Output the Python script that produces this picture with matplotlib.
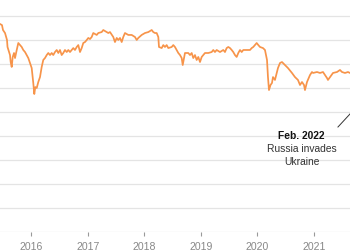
import matplotlib
matplotlib.use("Agg")
import matplotlib.pyplot as plt

plt.rcParams['font.family'] = ['Liberation Sans', 'DejaVu Sans']

# Decimal year of each sampled point
dates = [2015.446, 2015.481, 2015.499, 2015.535, 2015.570, 2015.579, 2015.596, 2015.623,
         2015.635, 2015.653, 2015.671, 2015.694, 2015.712, 2015.742, 2015.770, 2015.800,
         2015.830, 2015.858, 2015.889, 2015.919, 2015.947, 2015.977, 2016.007, 2016.025,
         2016.035, 2016.053, 2016.071, 2016.096, 2016.124, 2016.154, 2016.184, 2016.212,
         2016.242, 2016.273, 2016.301, 2016.331, 2016.361, 2016.389, 2016.419, 2016.450,
         2016.478, 2016.508, 2016.538, 2016.566, 2016.596, 2016.627, 2016.655, 2016.685,
         2016.715, 2016.743, 2016.773, 2016.804, 2016.832, 2016.862, 2016.892, 2016.920,
         2016.950, 2016.981, 2017.009, 2017.039, 2017.069, 2017.097, 2017.158, 2017.186,
         2017.246, 2017.274, 2017.335, 2017.363, 2017.393, 2017.451, 2017.481, 2017.512,
         2017.540, 2017.570, 2017.600, 2017.628, 2017.658, 2017.717, 2017.777, 2017.835,
         2017.866, 2017.894, 2017.954, 2018.012, 2018.071, 2018.131, 2018.159, 2018.189,
         2018.219, 2018.248, 2018.260, 2018.308, 2018.336, 2018.366, 2018.396, 2018.425,
         2018.485, 2018.513, 2018.543, 2018.573, 2018.602, 2018.632, 2018.662, 2018.680,
         2018.703, 2018.720, 2018.779, 2018.809, 2018.839, 2018.867, 2018.897, 2018.927,
         2018.956, 2018.986, 2019.016, 2019.044, 2019.074, 2019.133, 2019.193, 2019.221,
         2019.251, 2019.281, 2019.340, 2019.398, 2019.428, 2019.458, 2019.487, 2019.517,
         2019.547, 2019.575, 2019.605, 2019.635, 2019.664, 2019.694, 2019.724, 2019.752,
         2019.812, 2019.871, 2019.901, 2019.929, 2019.959, 2019.989, 2020.018, 2020.048,
         2020.101, 2020.136, 2020.172, 2020.189, 2020.207, 2020.234, 2020.260, 2020.278,
         2020.313, 2020.349, 2020.366, 2020.402, 2020.437, 2020.490, 2020.543, 2020.614,
         2020.667, 2020.720, 2020.756, 2020.791, 2020.827, 2020.844, 2020.880, 2020.933,
         2020.968, 2020.986, 2021.057, 2021.110, 2021.163, 2021.198, 2021.234, 2021.251,
         2021.287, 2021.340, 2021.411, 2021.464, 2021.499, 2021.552, 2021.605, 2021.641]

# Value of the ruble (U.S. cents)
values = [1.731, 1.722, 1.681, 1.656, 1.598, 1.540, 1.515, 1.473,
          1.415, 1.374, 1.457, 1.490, 1.448, 1.515, 1.573, 1.556,
          1.540, 1.515, 1.498, 1.473, 1.448, 1.407, 1.365, 1.290,
          1.241, 1.149, 1.207, 1.199, 1.249, 1.290, 1.374, 1.432,
          1.448, 1.473, 1.490, 1.473, 1.490, 1.473, 1.498, 1.515,
          1.490, 1.515, 1.473, 1.490, 1.515, 1.498, 1.515, 1.498,
          1.515, 1.531, 1.515, 1.540, 1.556, 1.498, 1.531, 1.573,
          1.581, 1.598, 1.615, 1.606, 1.623, 1.656, 1.640, 1.656,
          1.664, 1.681, 1.664, 1.656, 1.664, 1.623, 1.581, 1.615,
          1.598, 1.615, 1.581, 1.623, 1.656, 1.640, 1.640, 1.623,
          1.598, 1.615, 1.640, 1.656, 1.664, 1.681, 1.664, 1.656,
          1.656, 1.623, 1.540, 1.531, 1.556, 1.540, 1.556, 1.531,
          1.540, 1.556, 1.540, 1.515, 1.490, 1.473, 1.448, 1.390,
          1.448, 1.490, 1.490, 1.473, 1.490, 1.448, 1.473, 1.432,
          1.457, 1.415, 1.457, 1.473, 1.490, 1.490, 1.498, 1.515,
          1.498, 1.515, 1.498, 1.515, 1.498, 1.531, 1.540, 1.531,
          1.515, 1.498, 1.473, 1.457, 1.490, 1.515, 1.498, 1.515,
          1.515, 1.515, 1.531, 1.540, 1.556, 1.573, 1.556, 1.540,
          1.531, 1.515, 1.432, 1.290, 1.182, 1.224, 1.241, 1.290,
          1.266, 1.332, 1.365, 1.407, 1.415, 1.390, 1.365, 1.324,
          1.290, 1.266, 1.224, 1.249, 1.224, 1.182, 1.249, 1.307,
          1.332, 1.324, 1.332, 1.324, 1.332, 1.307, 1.282, 1.266,
          1.290, 1.324, 1.332, 1.349, 1.332, 1.324, 1.332, 1.324]

year_ticks = [2016, 2017, 2018, 2019, 2020, 2021]
year_labels = ['2016', '2017', '2018', '2019', '2020', '2021']
grid_values = [0.0, 0.2, 0.4, 0.6, 0.8, 1.0, 1.2, 1.4, 1.6, 1.8]

note_title = 'Feb. 2022'
note_lines = ['Russia invades', 'Ukraine']

fig = plt.figure(figsize=(3.5, 2.5), dpi=100)
ax = fig.add_axes([0, 0.0708, 1, 0.9292])
ax.set_xlim(2015.446, 2021.641)
ax.set_ylim(0, 1.9304)

for g in grid_values:
    ax.axhline(g, color='#e4e4e4', lw=0.9, zorder=1)

ax.plot(dates, values, color='#F7944A', lw=1.25, zorder=3, solid_joinstyle='round')

for s in ax.spines.values():
    s.set_visible(False)
ax.set_yticks([])
ax.set_xticks(year_ticks)
ax.set_xticklabels(year_labels)
ax.tick_params(axis='x', direction='out', length=3.2, width=0.8, color='#999999',
               labelcolor='#888888', labelsize=7.6, pad=4)

# annotation
ax.text(2020.786, 0.801, note_title, ha='center', va='center', fontsize=7.4,
        fontweight='bold', color='#121212')
ax.text(2020.786, 0.690, note_lines[0], ha='center', va='center', fontsize=7.4, color='#333333')
ax.text(2020.786, 0.587, note_lines[1], ha='center', va='center', fontsize=7.4, color='#333333')
ax.plot([2021.428, 2021.729], [0.875, 1.028], color='#333333', lw=0.7, zorder=4)

fig.savefig('out.png', dpi=100)
